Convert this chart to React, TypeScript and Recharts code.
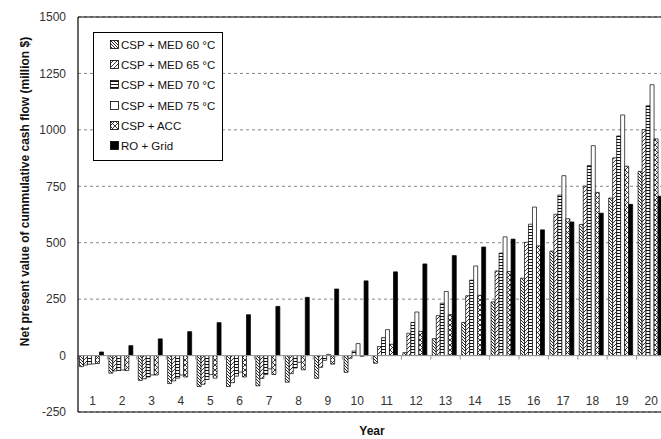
import { Bar, BarChart, CartesianGrid, Legend, ReferenceLine, XAxis, YAxis } from "recharts";

const years = ["1", "2", "3", "4", "5", "6", "7", "8", "9", "10", "11", "12", "13", "14", "15", "16", "17", "18", "19", "20"];

const med60 = [-49, -78, -110, -124, -137, -137, -134, -118, -101, -74, -34, 13, 75, 147, 238, 343, 463, 581, 698, 816];
const med65 = [-42, -68, -103, -112, -127, -120, -101, -80, -52, -12, 40, 99, 177, 265, 375, 502, 626, 751, 876, 1001];
const med70 = [-38, -66, -95, -100, -106, -91, -84, -55, -21, 20, 79, 147, 232, 334, 454, 582, 711, 842, 973, 1107];
const med75 = [-37, -64, -86, -86, -84, -73, -59, -30, 5, 53, 115, 193, 284, 397, 526, 658, 797, 930, 1066, 1200];
const acc = [-35, -66, -86, -95, -100, -95, -84, -63, -38, -3, 50, 107, 181, 267, 372, 486, 606, 723, 839, 960];
const roGrid = [16, 44, 74, 106, 146, 181, 218, 258, 295, 331, 371, 406, 443, 481, 516, 557, 592, 631, 670, 706];

const yTicks = [-250, 0, 250, 500, 750, 1000, 1250, 1500];

const SERIES = [
    { key: "med60", name: "CSP + MED 60 °C", fill: "url(#pat60)" },
    { key: "med65", name: "CSP + MED 65 °C", fill: "url(#pat65)" },
    { key: "med70", name: "CSP + MED 70 °C", fill: "url(#pat70)" },
    { key: "med75", name: "CSP + MED 75 °C", fill: "#ffffff" },
    { key: "acc", name: "CSP + ACC", fill: "url(#patAcc)" },
    { key: "ro", name: "RO + Grid", fill: "#000000" },
];

const data = years.map((year, i) => ({
    year,
    med60: med60[i],
    med65: med65[i],
    med70: med70[i],
    med75: med75[i],
    acc: acc[i],
    ro: roGrid[i],
}));

const FONT = "'Liberation Sans', Arial, sans-serif";

function Patterns() {
    return (
        <svg width={0} height={0} style={{ position: "absolute" }}>
            <defs>
                <pattern id="pat60" width={3} height={3} patternUnits="userSpaceOnUse">
                    <rect width={3} height={3} fill="#fff" />
                    <path d="M-1,2 l2,2 M0,0 l3,3 M2,-1 l2,2" stroke="#111" strokeWidth={0.9} />
                </pattern>
                <pattern id="pat65" width={4} height={4} patternUnits="userSpaceOnUse">
                    <rect width={4} height={4} fill="#fff" />
                    <path d="M-1,1 l2,-2 M0,4 l4,-4 M3,5 l2,-2" stroke="#222" strokeWidth={0.9} />
                </pattern>
                <pattern id="pat70" width={4} height={3} patternUnits="userSpaceOnUse">
                    <rect width={4} height={3} fill="#fff" />
                    <path d="M0,1.5 L4,1.5" stroke="#111" strokeWidth={1} />
                </pattern>
                <pattern id="patAcc" width={5} height={5} patternUnits="userSpaceOnUse">
                    <rect width={5} height={5} fill="#fff" />
                    <path d="M0,0 L5,5 M5,0 L0,5" stroke="#222" strokeWidth={0.9} />
                </pattern>
            </defs>
        </svg>
    );
}

function YearTick({ x, y, payload }: any) {
    return (
        <text x={x} y={y - 24} dy="0.71em" textAnchor="middle" fontSize={12} fill="#333" fontFamily={FONT}>
            {payload.value}
        </text>
    );
}

// zero line with the small category ticks hanging below it
function ZeroLine({ x1, y1, x2 }: any) {
    const step = (x2 - x1) / years.length;
    const marks = [];
    for (let i = 0; i <= years.length; i++) {
        const x = x1 + i * step;
        marks.push(<line key={i} x1={x} y1={y1} x2={x} y2={y1 + 4} stroke="#999" strokeWidth={1} />);
    }
    return (
        <g>
            <line x1={x1} y1={y1} x2={x2} y2={y1} stroke="#999" strokeWidth={1} />
            {marks}
        </g>
    );
}

function LegendBox() {
    return (
        <div
            style={{
                border: "1px solid #000",
                background: "#fff",
                width: 130,
                padding: "2px 0 4px 16px",
                boxSizing: "border-box",
                fontFamily: FONT,
                fontSize: 11.5,
                color: "#111",
                whiteSpace: "nowrap",
            }}
        >
            {SERIES.map((s) => (
                <div key={s.key} style={{ display: "flex", alignItems: "center", height: 20.2 }}>
                    <svg width={10} height={10} style={{ marginRight: 1, flexShrink: 0 }}>
                        <rect x={0.5} y={0.5} width={8} height={8} fill={s.fill} stroke="#000" strokeWidth={0.8} />
                    </svg>
                    <span>{s.name}</span>
                </div>
            ))}
        </div>
    );
}

export default function App() {
    return (
        <div style={{ position: "absolute", left: 0, top: 0, width: 661, height: 439, overflow: "hidden", background: "#fff" }}>
            <Patterns />
            <BarChart
                width={676}
                height={450}
                data={data}
                margin={{ top: 17, right: 10, bottom: 8, left: 0 }}
                barGap={0}
                barCategoryGap="5%"
            >
                <CartesianGrid vertical={false} stroke="#888" strokeDasharray="3 3" />
                <XAxis
                    dataKey="year"
                    height={30}
                    axisLine={{ stroke: "#000", strokeWidth: 1.2 }}
                    tickLine={false}
                    tick={<YearTick />}
                    interval={0}
                    label={({ viewBox }: any) => (
                        <text
                            x={viewBox.x + viewBox.width / 2}
                            y={viewBox.y + 23}
                            textAnchor="middle"
                            fontSize={12}
                            fontWeight="bold"
                            fill="#111"
                            fontFamily={FONT}
                        >
                            Year
                        </text>
                    )}
                />
                <YAxis
                    width={78}
                    domain={[-250, 1500]}
                    ticks={yTicks}
                    axisLine={{ stroke: "#000", strokeWidth: 1.2 }}
                    tickLine={false}
                    tickMargin={6}
                    tick={{ fontSize: 12, fill: "#333", fontFamily: FONT }}
                    label={({ viewBox }: any) => {
                        const cx = viewBox.x + 25;
                        const cy = viewBox.y + viewBox.height / 2 - 23;
                        return (
                            <text
                                x={cx}
                                y={cy}
                                transform={`rotate(-90 ${cx} ${cy})`}
                                textAnchor="middle"
                                dominantBaseline="central"
                                fontSize={12}
                                fontWeight="bold"
                                fill="#111"
                                fontFamily={FONT}
                            >
                                Net present value of cummulative cash flow (million $)
                            </text>
                        );
                    }}
                />
                <ReferenceLine y={1500} stroke="#000" strokeWidth={1.2} />
                <ReferenceLine y={0} shape={<ZeroLine />} />
                <Legend
                    layout="vertical"
                    align="center"
                    verticalAlign="middle"
                    content={<LegendBox />}
                    wrapperStyle={{ left: 93, top: 32, width: 130 }}
                />
                {SERIES.map((s) => (
                    <Bar
                        key={s.key}
                        dataKey={s.key}
                        name={s.name}
                        fill={s.fill}
                        stroke="#000"
                        strokeWidth={0.7}
                        isAnimationActive={false}
                    />
                ))}
            </BarChart>
        </div>
    );
}
